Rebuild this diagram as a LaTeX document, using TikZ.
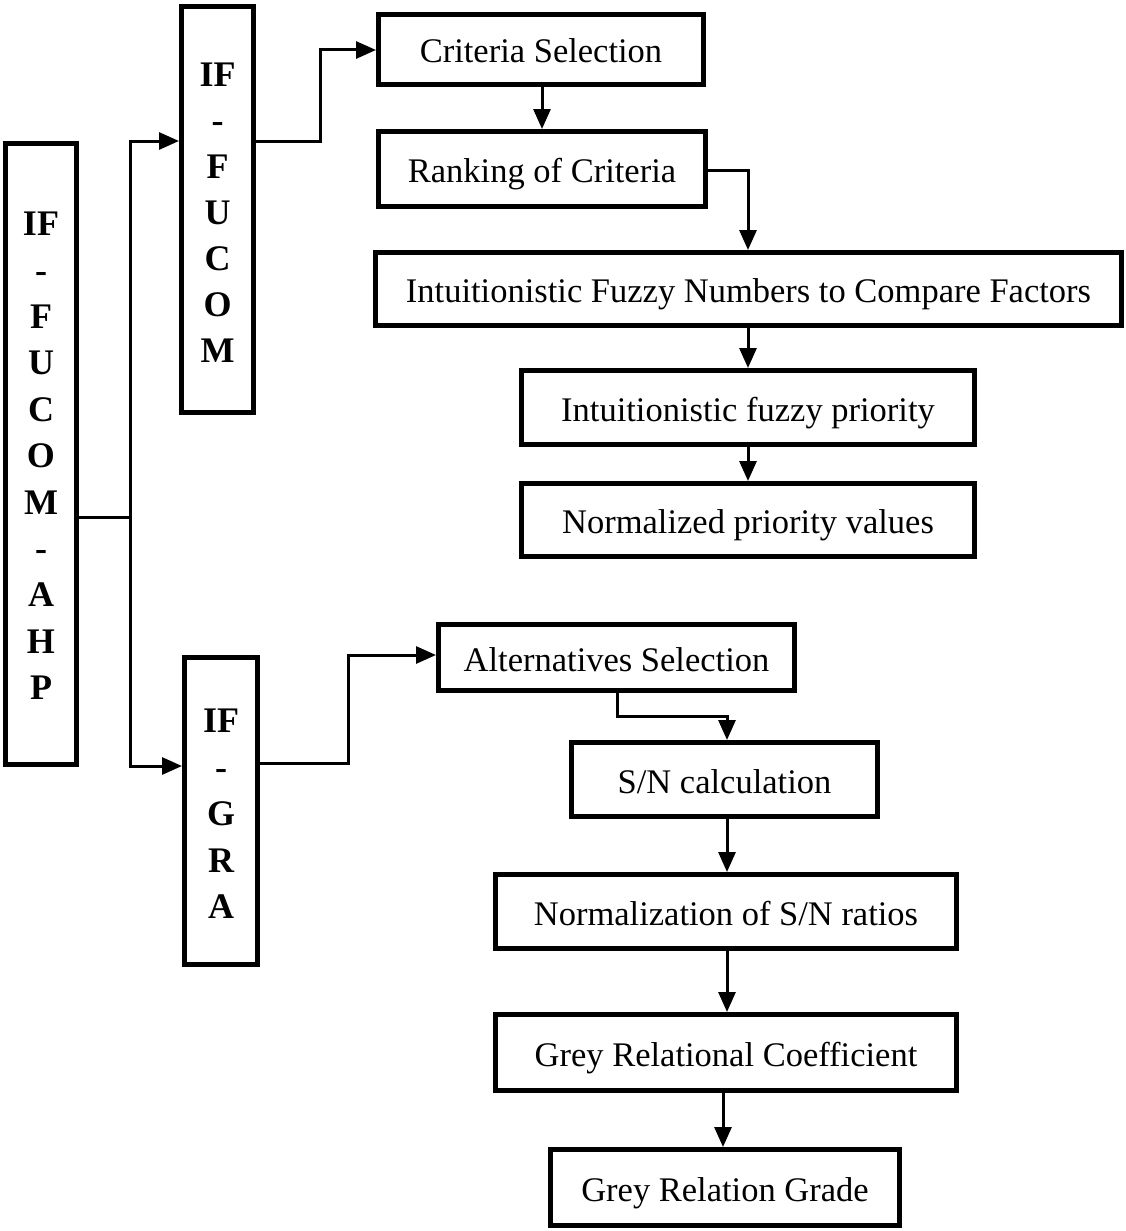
\documentclass[tikz,border=0pt]{standalone}
\usepackage{fontspec}
\setmainfont{Liberation Serif}
\usetikzlibrary{arrows.meta}
\tikzset{
  box/.style={draw, line width=5pt, inner sep=0pt, align=center, text height=30pt, text depth=3pt, font=\fontsize{34.5}{40}\selectfont},
  vbox/.style={draw, line width=5pt, inner sep=0pt},
  vtext/.style={font=\bfseries\fontsize{36}{46.4}\selectfont, align=center, inner sep=0pt},
  conn/.style={line width=3pt},
  arr/.style={line width=3pt, -{Triangle[length=20pt,width=17pt]}},
}
\begin{document}
\begin{tikzpicture}[x=1pt,y=-1pt]
\useasboundingbox (0,0) rectangle (1126,1231);
% left vertical boxes
\node[vbox, minimum width=71pt, minimum height=621pt] (big) at (41,454) {};
\node[vtext] (bigt) at (41,456) {IF\\-\\F\\U\\C\\O\\M\\-\\A\\H\\P};
\node[vbox, minimum width=72pt, minimum height=406pt] (fucom) at (217.5,209.5) {};
\node[vtext, font=\bfseries\fontsize{36}{46}\selectfont] (fucomt) at (217.5,213) {IF\\-\\F\\U\\C\\O\\M};
\node[vbox, minimum width=73pt, minimum height=307pt] (gra) at (221,811) {};
\node[vtext, font=\bfseries\fontsize{36}{46.5}\selectfont] (grat) at (221,814) {IF\\-\\G\\R\\A};
% upper chain
\node[box, minimum width=325pt, minimum height=70pt] (cs) at (541,49.5) {Criteria Selection};
\node[box, minimum width=327pt, minimum height=75pt] (rc) at (542,169) {Ranking of Criteria};
\node[box, minimum width=746pt, minimum height=73pt] (ifn) at (748.5,289) {Intuitionistic Fuzzy Numbers to Compare Factors};
\node[box, minimum width=453pt, minimum height=74pt] (ifp) at (748,407.5) {Intuitionistic fuzzy priority};
\node[box, minimum width=453pt, minimum height=73pt] (npv) at (748,520) {Normalized priority values};
% lower chain
\node[box, minimum width=356pt, minimum height=66pt] (alt) at (616.5,657.5) {Alternatives Selection};
\node[box, minimum width=306pt, minimum height=74pt] (sn) at (724.5,779.5) {S/N calculation};
\node[box, minimum width=461pt, minimum height=74pt] (nsn) at (726,911.5) {Normalization of S/N ratios};
\node[box, minimum width=461pt, minimum height=76pt] (grc) at (726,1052.5) {Grey Relational Coefficient};
\node[box, minimum width=349pt, minimum height=76pt] (grg) at (725,1187.5) {Grey Relation Grade};
% helper coordinates
\coordinate (j1) at (130,517);
\coordinate (yf) at (0,141);
\coordinate (yg) at (0,766);
\coordinate (yf2) at (0,141);
\coordinate (k1) at (320,50);
\coordinate (k2) at (348,655);
\coordinate (yg2) at (0,763);
\coordinate (xr) at (748,0);
\coordinate (yr) at (0,170);
\coordinate (xa) at (617,0);
\coordinate (ya) at (0,716);
\coordinate (xs) at (727,0);
\coordinate (xg) at (723,0);
% connectors
\draw[conn] (big.east |- j1) -- (j1);
\draw[arr] (j1) |- (fucom.west |- yf);
\draw[arr] (j1) |- (gra.west |- yg);
\draw[arr] (fucom.east |- yf2) -| (k1) -- (cs.west |- k1);
\draw[arr] (gra.east |- yg2) -| (k2) -- (alt.west |- k2);
\draw[arr] (cs.south -| rc.north) -- (rc.north);
\draw[arr] (rc.east |- yr) -| (ifn.north -| xr);
\draw[arr] (ifn.south -| xr) -- (ifp.north -| xr);
\draw[arr] (ifp.south -| xr) -- (npv.north -| xr);
\draw[arr] (alt.south -| xa) |- (xs |- ya) -- (sn.north -| xs);
\draw[arr] (sn.south -| xs) -- (nsn.north -| xs);
\draw[arr] (nsn.south -| xs) -- (grc.north -| xs);
\draw[arr] (grc.south -| xg) -- (grg.north -| xg);
\end{tikzpicture}
\end{document}
